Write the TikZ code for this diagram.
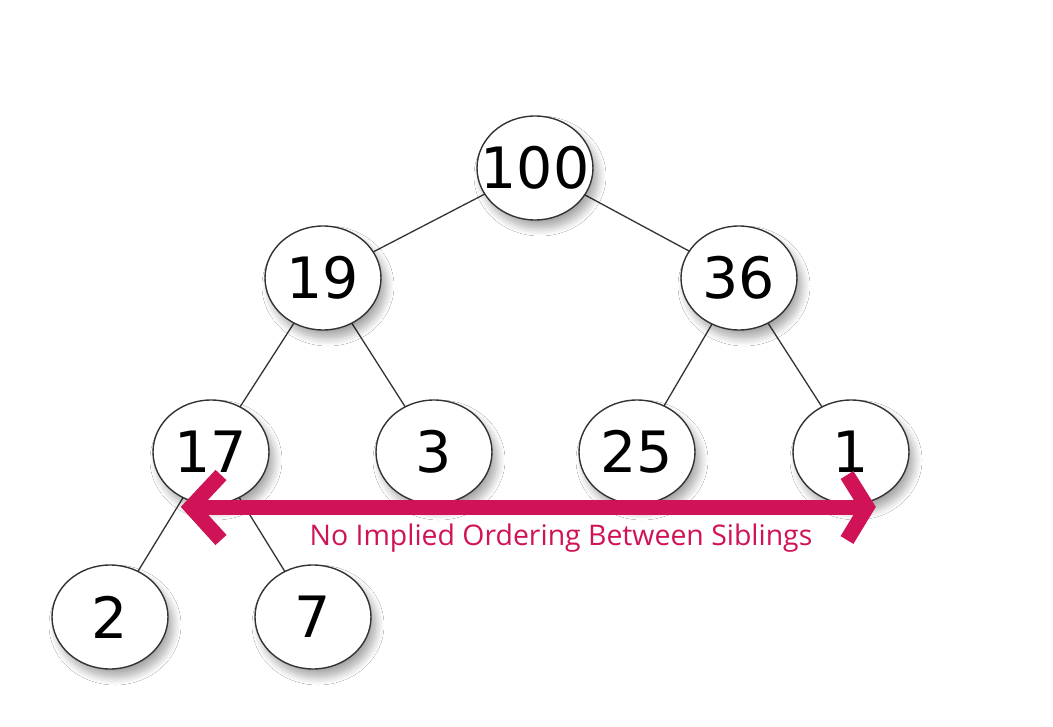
\documentclass[tikz,border=0pt]{standalone}
\usepackage{fontspec}
\setmainfont{DejaVu Sans}
\newfontfamily\labelfont{Open Sans}
\usetikzlibrary{shapes.geometric,shadows.blur}
\definecolor{arrowmag}{HTML}{D01257}
\definecolor{edgegray}{HTML}{333333}
\newcommand{\zw}[1]{\makebox[0pt]{#1}}
\tikzset{
  heapnode/.style={ellipse, draw=edgegray, line width=1.4pt, fill=white,
    minimum width=116pt, minimum height=104pt, inner sep=0pt,
    font=\fontsize{57}{60}\selectfont,
    blur shadow={shadow xshift=5pt, shadow yshift=-8pt, shadow blur steps=12, shadow opacity=35, shadow blur radius=8pt}},
  treeedge/.style={draw=edgegray, line width=1.3pt},
  bigarrow/.style={draw=arrowmag, line width=15pt, line cap=butt, line join=miter},
}
\begin{document}
\begin{tikzpicture}[x=1pt,y=-1pt]
\useasboundingbox (0,0) rectangle (1053,727);
\fill[white] (0,0) rectangle (1053,727);
\coordinate (c100) at (535,168);
\coordinate (c19) at (323,278);
\coordinate (c36) at (739,278);
\coordinate (c17) at (211,452);
\coordinate (c3) at (434,452);
\coordinate (c25) at (637,452);
\coordinate (c1) at (851,452);
\coordinate (c2) at (110,617);
\coordinate (c7) at (313,617);
\draw[treeedge] (c100) -- (c19);
\draw[treeedge] (c100) -- (c36);
\draw[treeedge] (c19) -- (c17);
\draw[treeedge] (c19) -- (c3);
\draw[treeedge] (c36) -- (c25);
\draw[treeedge] (c36) -- (c1);
\draw[treeedge] (c17) -- (c2);
\draw[treeedge] (c17) -- (c7);
\node[heapnode] (n100) at (c100) {\zw{100}};
\node[heapnode] (n19) at (c19) {\zw{19}};
\node[heapnode] (n36) at (c36) {\zw{36}};
\node[heapnode] (n17) at (c17) {\zw{17}};
\node[heapnode] (n3) at (c3) {\zw{3}};
\node[heapnode] (n25) at (c25) {\zw{25}};
\node[heapnode] (n1) at (c1) {\zw{1}};
\node[heapnode] (n2) at (c2) {\zw{2}};
\node[heapnode] (n7) at (c7) {\zw{7}};
\coordinate (lt) at (191,507);
\coordinate (rt) at (867,507);
\coordinate (lu) at (221,475);
\coordinate (ld) at (221,540);
\coordinate (ru) at (847,475);
\coordinate (rd) at (847,540);
\draw[bigarrow] (lt) -- (rt);
\draw[bigarrow] (lu) -- (lt) -- (ld);
\draw[bigarrow] (ru) -- (rt) -- (rd);
\node[text=arrowmag, font=\labelfont\fontsize{28.4}{30}\selectfont, anchor=base] (lbl) at (561,545) {No Implied Ordering Between Siblings};
\end{tikzpicture}
\end{document}
